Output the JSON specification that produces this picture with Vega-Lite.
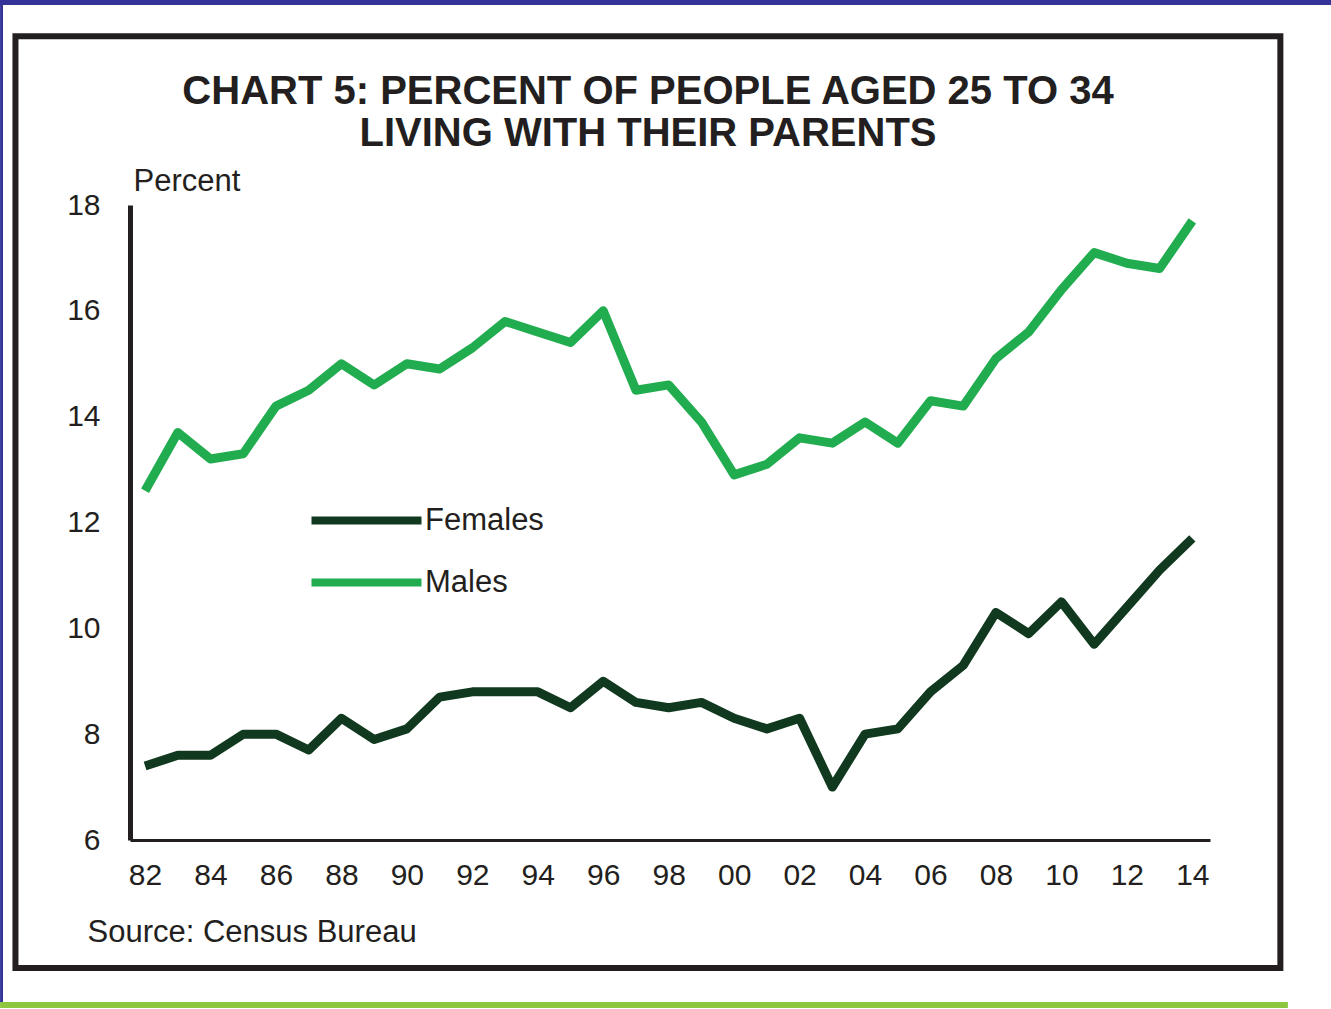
{
  "$schema": "https://vega.github.io/schema/vega-lite/v6.json",
  "autosize": {"type": "none"},
  "padding": {"left": 130, "top": 205, "right": 121, "bottom": 169},
  "width": 1080,
  "height": 635,
  "background": "white",
  "title": {
    "text": ["CHART 5: PERCENT OF PEOPLE AGED 25 TO 34", "LIVING WITH THEIR PARENTS"],
    "font": "Liberation Sans",
    "fontSize": 40,
    "fontWeight": "bold",
    "color": "#231f20",
    "anchor": "middle",
    "dx": -22,
    "dy": 174,
    "lineHeight": 42,
    "offset": 20
  },
  "config": {
    "view": {"stroke": null},
    "axis": {
      "labelFont": "Liberation Sans",
      "titleFont": "Liberation Sans",
      "labelColor": "#231f20",
      "titleColor": "#231f20",
      "domainColor": "#231f20",
      "grid": false,
      "ticks": false,
      "tickSize": 0,
      "labelFontSize": 30,
      "titleFontSize": 31,
      "titleFontWeight": "normal"
    }
  },
  "layer": [
    {
      "data": {"values": [{}]},
      "mark": {"type": "rect", "color": "#343398"},
      "encoding": {
        "x": {"datum": 1977.57, "type": "quantitative"},
        "x2": {"datum": 2018.24},
        "y": {"datum": 21.874, "type": "quantitative"},
        "y2": {"datum": 21.78}
      }
    },
    {
      "data": {"values": [{}]},
      "mark": {"type": "rect", "color": "#343398"},
      "encoding": {
        "x": {"datum": 1977.57, "type": "quantitative"},
        "x2": {"datum": 1977.66},
        "y": {"datum": 21.874, "type": "quantitative"},
        "y2": {"datum": 2.92}
      }
    },
    {
      "data": {"values": [{}]},
      "mark": {"type": "rect", "color": "#8dc63f"},
      "encoding": {
        "x": {"datum": 1977.57, "type": "quantitative"},
        "x2": {"datum": 2016.92},
        "y": {"datum": 2.939, "type": "quantitative"},
        "y2": {"datum": 2.825}
      }
    },
    {
      "data": {"values": [{}]},
      "mark": {"type": "rect", "fill": null, "stroke": "#231f20", "strokeWidth": 6},
      "encoding": {
        "x": {"datum": 1978.04, "type": "quantitative"},
        "x2": {"datum": 2016.69},
        "y": {"datum": 21.19, "type": "quantitative"},
        "y2": {"datum": 3.58}
      }
    },
    {
      "data": {
        "values": [
          {"year": 1982, "sex": "Females", "value": 7.4},
          {"year": 1983, "sex": "Females", "value": 7.6},
          {"year": 1984, "sex": "Females", "value": 7.6},
          {"year": 1985, "sex": "Females", "value": 8.0},
          {"year": 1986, "sex": "Females", "value": 8.0},
          {"year": 1987, "sex": "Females", "value": 7.7},
          {"year": 1988, "sex": "Females", "value": 8.3},
          {"year": 1989, "sex": "Females", "value": 7.9},
          {"year": 1990, "sex": "Females", "value": 8.1},
          {"year": 1991, "sex": "Females", "value": 8.7},
          {"year": 1992, "sex": "Females", "value": 8.8},
          {"year": 1993, "sex": "Females", "value": 8.8},
          {"year": 1994, "sex": "Females", "value": 8.8},
          {"year": 1995, "sex": "Females", "value": 8.5},
          {"year": 1996, "sex": "Females", "value": 9.0},
          {"year": 1997, "sex": "Females", "value": 8.6},
          {"year": 1998, "sex": "Females", "value": 8.5},
          {"year": 1999, "sex": "Females", "value": 8.6},
          {"year": 2000, "sex": "Females", "value": 8.3},
          {"year": 2001, "sex": "Females", "value": 8.1},
          {"year": 2002, "sex": "Females", "value": 8.3},
          {"year": 2003, "sex": "Females", "value": 7.0},
          {"year": 2004, "sex": "Females", "value": 8.0},
          {"year": 2005, "sex": "Females", "value": 8.1},
          {"year": 2006, "sex": "Females", "value": 8.8},
          {"year": 2007, "sex": "Females", "value": 9.3},
          {"year": 2008, "sex": "Females", "value": 10.3},
          {"year": 2009, "sex": "Females", "value": 9.9},
          {"year": 2010, "sex": "Females", "value": 10.5},
          {"year": 2011, "sex": "Females", "value": 9.7},
          {"year": 2012, "sex": "Females", "value": 10.4},
          {"year": 2013, "sex": "Females", "value": 11.1},
          {"year": 2014, "sex": "Females", "value": 11.7},
          {"year": 1982, "sex": "Males", "value": 12.6},
          {"year": 1983, "sex": "Males", "value": 13.7},
          {"year": 1984, "sex": "Males", "value": 13.2},
          {"year": 1985, "sex": "Males", "value": 13.3},
          {"year": 1986, "sex": "Males", "value": 14.2},
          {"year": 1987, "sex": "Males", "value": 14.5},
          {"year": 1988, "sex": "Males", "value": 15.0},
          {"year": 1989, "sex": "Males", "value": 14.6},
          {"year": 1990, "sex": "Males", "value": 15.0},
          {"year": 1991, "sex": "Males", "value": 14.9},
          {"year": 1992, "sex": "Males", "value": 15.3},
          {"year": 1993, "sex": "Males", "value": 15.8},
          {"year": 1994, "sex": "Males", "value": 15.6},
          {"year": 1995, "sex": "Males", "value": 15.4},
          {"year": 1996, "sex": "Males", "value": 16.0},
          {"year": 1997, "sex": "Males", "value": 14.5},
          {"year": 1998, "sex": "Males", "value": 14.6},
          {"year": 1999, "sex": "Males", "value": 13.9},
          {"year": 2000, "sex": "Males", "value": 12.9},
          {"year": 2001, "sex": "Males", "value": 13.1},
          {"year": 2002, "sex": "Males", "value": 13.6},
          {"year": 2003, "sex": "Males", "value": 13.5},
          {"year": 2004, "sex": "Males", "value": 13.9},
          {"year": 2005, "sex": "Males", "value": 13.5},
          {"year": 2006, "sex": "Males", "value": 14.3},
          {"year": 2007, "sex": "Males", "value": 14.2},
          {"year": 2008, "sex": "Males", "value": 15.1},
          {"year": 2009, "sex": "Males", "value": 15.6},
          {"year": 2010, "sex": "Males", "value": 16.4},
          {"year": 2011, "sex": "Males", "value": 17.1},
          {"year": 2012, "sex": "Males", "value": 16.9},
          {"year": 2013, "sex": "Males", "value": 16.8},
          {"year": 2014, "sex": "Males", "value": 17.7}
        ]
      },
      "mark": {"type": "line", "strokeWidth": 9, "strokeJoin": "round", "strokeCap": "butt"},
      "encoding": {
        "x": {
          "field": "year",
          "type": "quantitative",
          "scale": {"domain": [1981.54, 2014.54], "nice": false, "zero": false},
          "axis": {
            "values": [1982, 1984, 1986, 1988, 1990, 1992, 1994, 1996, 1998, 2000, 2002, 2004, 2006, 2008, 2010, 2012, 2014],
            "labelExpr": "substring(toString(datum.value), 2, 4)",
            "labelPadding": 20,
            "domainWidth": 3,
            "title": "Source: Census Bureau",
            "titleX": -43,
            "titleY": 101,
            "titleAlign": "left",
            "titleBaseline": "alphabetic",
            "titleAngle": 0
          }
        },
        "y": {
          "field": "value",
          "type": "quantitative",
          "scale": {"domain": [6, 18], "nice": false, "zero": false},
          "axis": {
            "values": [6, 8, 10, 12, 14, 16, 18],
            "labelPadding": 30,
            "domainWidth": 5,
            "title": "Percent",
            "titleAngle": 0,
            "titleAlign": "left",
            "titleBaseline": "alphabetic",
            "titleX": 3,
            "titleY": -15
          }
        },
        "color": {
          "field": "sex",
          "type": "nominal",
          "scale": {"domain": ["Females", "Males"], "range": ["#10391f", "#21ad4f"]},
          "legend": {
            "title": null,
            "orient": "none",
            "legendX": 221,
            "legendY": 300,
            "padding": 0,
            "symbolType": "M-10,0H10",
            "symbolSize": 121,
            "symbolStrokeWidth": 8,
            "labelOffset": 43,
            "labelFont": "Liberation Sans",
            "labelFontSize": 31,
            "labelColor": "#231f20",
            "rowPadding": 29
          }
        }
      }
    }
  ]
}
